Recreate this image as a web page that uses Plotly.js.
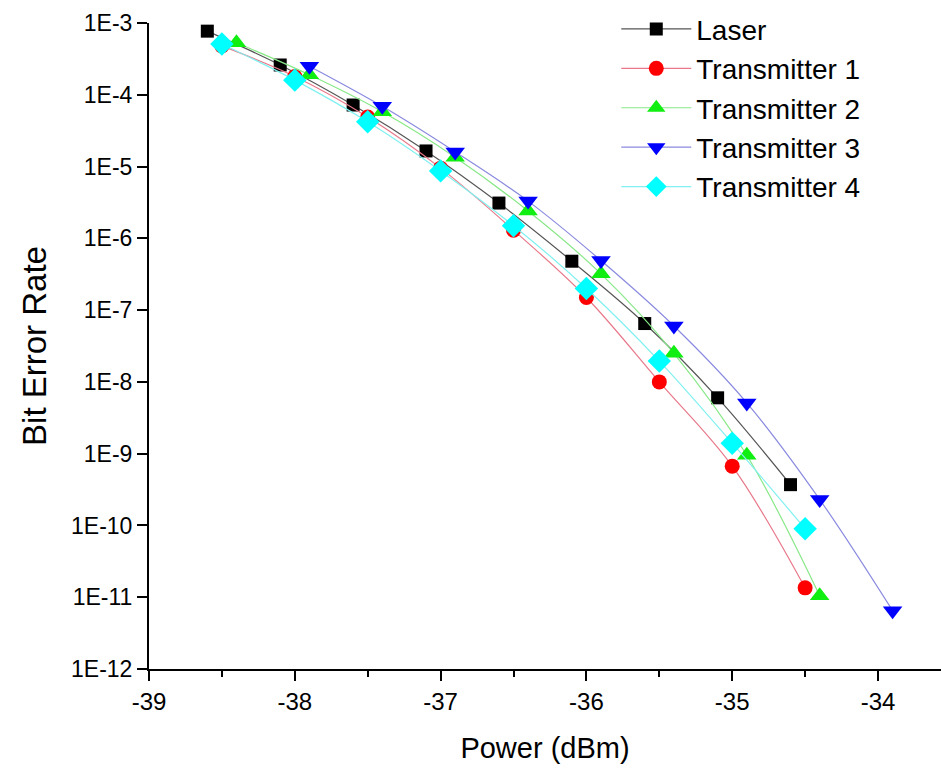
<!DOCTYPE html>
<html>
<head>
<meta charset="utf-8">
<script src="https://cdn.plot.ly/plotly-3.0.1.min.js"></script>
<style>html,body{margin:0;padding:0;background:#fff;}#chart{width:941px;height:768px;}</style>
</head>
<body>
<div id="chart"></div>
<script>
const seriesNames = ["Laser", "Transmitter 1", "Transmitter 2", "Transmitter 3", "Transmitter 4"];
const laserX = [-38.6, -38.1, -37.6, -37.1, -36.6, -36.1, -35.6, -35.1, -34.6];
const laserY = [7.7e-4, 2.6e-4, 7.2e-5, 1.65e-5, 3.1e-6, 4.8e-7, 6.5e-8, 6.0e-9, 3.7e-10];
const t1X = [-38.5, -38.0, -37.5, -37.0, -36.5, -36.0, -35.5, -35.0, -34.5];
const t1Y = [4.8e-4, 1.8e-4, 4.9e-5, 9.5e-6, 1.3e-6, 1.5e-7, 1.0e-8, 6.7e-10, 1.35e-11];
const t2X = [-38.4, -37.9, -37.4, -36.9, -36.4, -35.9, -35.4, -34.9, -34.4];
const t2Y = [5.3e-4, 1.9e-4, 5.8e-5, 1.35e-5, 2.4e-6, 3.2e-7, 2.5e-8, 9.5e-10, 1.05e-11];
const t3X = [-37.9, -37.4, -36.9, -36.4, -35.9, -35.4, -34.9, -34.4, -33.9];
const t3Y = [2.5e-4, 6.9e-5, 1.6e-5, 3.3e-6, 4.9e-7, 6.0e-8, 5.1e-9, 2.3e-10, 6.5e-12];
const t4X = [-38.5, -38.0, -37.5, -37.0, -36.5, -36.0, -35.5, -35.0, -34.5];
const t4Y = [5.1e-4, 1.6e-4, 4.2e-5, 8.7e-6, 1.5e-6, 2.0e-7, 1.95e-8, 1.4e-9, 9.0e-11];
const yTickVals = [1e-3, 1e-4, 1e-5, 1e-6, 1e-7, 1e-8, 1e-9, 1e-10, 1e-11, 1e-12];
const yTickText = ["1E-3", "1E-4", "1E-5", "1E-6", "1E-7", "1E-8", "1E-9", "1E-10", "1E-11", "1E-12"];
const xTickVals = [-39, -38, -37, -36, -35, -34];
const xTickText = ["-39", "-38", "-37", "-36", "-35", "-34"];

const styles = [
  {line: "#555555", marker: "#000000", symbol: "square", size: 13},
  {line: "#e8788a", marker: "#ff0000", symbol: "circle", size: 15},
  {line: "#88e888", marker: "#11ee11", symbol: "triangle-up", size: 17},
  {line: "#8a8ae0", marker: "#0000ff", symbol: "triangle-down", size: 17},
  {line: "#80f0f0", marker: "#00ffff", symbol: "diamond", size: 18}
];
const xs = [laserX, t1X, t2X, t3X, t4X];
const ys = [laserY, t1Y, t2Y, t3Y, t4Y];

const traces = seriesNames.map((n, i) => ({
  x: xs[i], y: ys[i], name: n, type: "scatter", mode: "lines+markers",
  cliponaxis: false,
  line: {color: styles[i].line, width: 1.2, shape: "spline", smoothing: 1},
  marker: {color: styles[i].marker, symbol: styles[i].symbol, size: styles[i].size, line: {width: 0}}
}));

const font = "Liberation Sans, Arial, sans-serif";
const layout = {
  width: 941, height: 768,
  margin: {l: 149, r: 0, t: 23, b: 99},
  paper_bgcolor: "#ffffff", plot_bgcolor: "#ffffff",
  font: {family: font, color: "#000"},
  showlegend: true,
  legend: {
    x: 0.59, y: 1.029, xanchor: "left", yanchor: "top",
    bgcolor: "rgba(0,0,0,0)", borderwidth: 0,
    font: {family: font, size: 28, color: "#000"},
    itemwidth: 70, tracegroupgap: 0
  },
  xaxis: {
    range: [-39, -33.568], showgrid: false, zeroline: false,
    showline: true, linecolor: "#000", linewidth: 2,
    ticks: "outside", ticklen: 10, tickwidth: 2, tickcolor: "#000",
    tickmode: "array", tickvals: xTickVals, ticktext: xTickText,
    tickfont: {family: font, size: 24, color: "#000"},
    minor: {ticks: "outside", ticklen: 6, tickwidth: 2, tickcolor: "#000", dtick: 0.5, tick0: -39, showgrid: false},
    title: {text: "Power (dBm)", font: {family: font, size: 29, color: "#000"}, standoff: 24}
  },
  yaxis: {
    type: "log", range: [-12, -3], showgrid: false, zeroline: false,
    showline: true, linecolor: "#000", linewidth: 2,
    ticks: "outside", ticklen: 10, tickwidth: 2, tickcolor: "#000",
    tickmode: "array", tickvals: yTickVals, ticktext: yTickText,
    tickfont: {family: font, size: 23, color: "#000"},
    title: {text: "Bit Error Rate", font: {family: font, size: 33, color: "#000"}, standoff: 14}
  }
};
Plotly.newPlot("chart", traces, layout, {displayModeBar: false, staticPlot: true});
</script>
</body>
</html>
